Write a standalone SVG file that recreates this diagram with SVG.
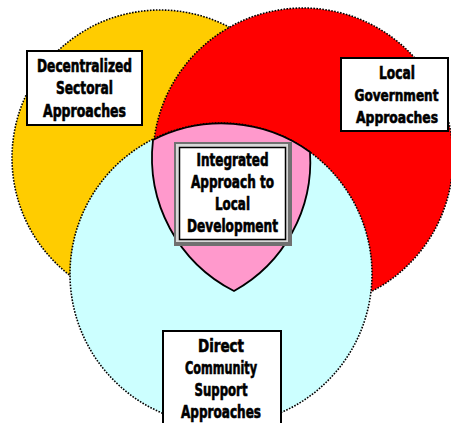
<svg xmlns="http://www.w3.org/2000/svg" width="451" height="423" viewBox="0 0 451 423">
  <style>
    .circ { stroke: #000; stroke-width: 1.6; stroke-dasharray: 1.6 1.4; }
    .box { fill: #fff; stroke: #000; stroke-width: 2; }
    .lbl { font-family: "DejaVu Sans Condensed", "DejaVu Sans", sans-serif; font-stretch: condensed; font-weight: bold; font-size: 17px; fill: #000; stroke: #000; stroke-width: 0.6; text-anchor: middle; }
    .sm { font-size: 16px; }
    .xs { font-size: 15px; }
  </style>
  <rect width="451" height="423" fill="#fff"/>
  <g id="circle-decentralized">
    <circle class="circ" cx="160" cy="158" r="148" fill="#FFCC00"/>
  </g>
  <g id="circle-local-government">
    <circle class="circ" cx="303" cy="158" r="150" fill="#FF0000"/>
  </g>
  <g id="circle-direct-community">
    <circle class="circ" cx="221" cy="274" r="151" fill="#CCFFFF"/>
  </g>
  <g id="intersection">
    <path d="M153,140 A151,151 0 0 1 310,152 A148,148 0 0 1 234,291 A150,150 0 0 1 153,140 Z" fill="#FF99CC" stroke="#000" stroke-width="1.8" stroke-linejoin="round"/>
  </g>
  <g id="node-decentralized">
    <rect class="box" x="27" y="51" width="115" height="74"/>
    <text class="lbl" x="84.5" y="72" textLength="95" lengthAdjust="spacingAndGlyphs">Decentralized</text>
    <text class="lbl" x="84.5" y="94" textLength="57" lengthAdjust="spacingAndGlyphs">Sectoral</text>
    <text class="lbl" x="84.5" y="117" textLength="83" lengthAdjust="spacingAndGlyphs">Approaches</text>
  </g>
  <g id="node-local-government">
    <rect class="box" x="341" y="58" width="107" height="73"/>
    <text class="lbl" x="397" y="79" textLength="36" lengthAdjust="spacingAndGlyphs">Local</text>
    <text class="lbl xs" x="396.5" y="101" textLength="84" lengthAdjust="spacingAndGlyphs">Government</text>
    <text class="lbl sm" x="397" y="123" textLength="82" lengthAdjust="spacingAndGlyphs">Approaches</text>
  </g>
  <g id="node-integrated">
    <rect x="174" y="142" width="118" height="104" fill="#707070"/>
    <rect x="176" y="144" width="112" height="98" fill="#d8d8d8"/>
    <rect x="179.5" y="147.5" width="106" height="92" fill="#fff" stroke="#000" stroke-width="1.5"/>
    <text class="lbl" x="232.5" y="166" textLength="72" lengthAdjust="spacingAndGlyphs">Integrated</text>
    <text class="lbl" x="232.5" y="188" textLength="83" lengthAdjust="spacingAndGlyphs">Approach to</text>
    <text class="lbl" x="232.5" y="210" textLength="35" lengthAdjust="spacingAndGlyphs">Local</text>
    <text class="lbl" x="232.5" y="232" textLength="91" lengthAdjust="spacingAndGlyphs">Development</text>
  </g>
  <g id="node-direct-community">
    <rect class="box" x="163" y="331" width="118" height="100"/>
    <text class="lbl" x="221" y="352" textLength="46" lengthAdjust="spacingAndGlyphs">Direct</text>
    <text class="lbl" x="221" y="374" textLength="72" lengthAdjust="spacingAndGlyphs">Community</text>
    <text class="lbl" x="221" y="396" textLength="53" lengthAdjust="spacingAndGlyphs">Support</text>
    <text class="lbl" x="221" y="418" textLength="80" lengthAdjust="spacingAndGlyphs">Approaches</text>
  </g>
  <g id="connectors"></g>
</svg>
